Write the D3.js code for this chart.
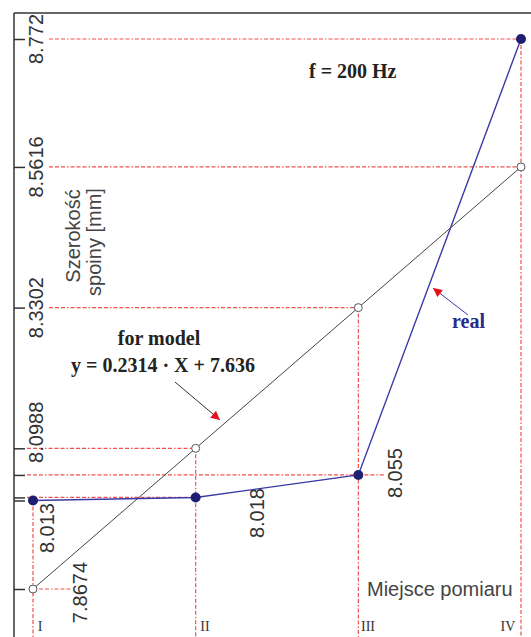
<!DOCTYPE html>
<html>
<head>
<meta charset="utf-8">
<script src="https://cdn.jsdelivr.net/npm/d3@7"></script>
<style>
  body { margin: 0; background: #fff; }
  svg { display: block; }
</style>
</head>
<body>
<svg id="chart" width="531" height="637"></svg>
<script>
// Measurement positions along the weld
const positions = [1, 2, 3, 4];
const positionLabels = ["I", "II", "III", "IV"];
// Measured weld width [mm] at f = 200 Hz
const realValues = [8.013, 8.018, 8.055, 8.772];
// Linear model y = 0.2314 * X + 7.636
const modelValues = [7.8674, 8.0988, 8.3302, 8.5616];
// Values marked on the vertical axis
const axisTicks = [8.772, 8.5616, 8.3302, 8.0988, 8.055, 8.018, 8.013, 7.8674];
const axisTickLabels = ["8.772", "8.5616", "8.3302", "8.0988"];

const svg = d3.select("#chart");
const W = 531, H = 637;
const axisX = 14, topY = 13;

const x = d3.scaleLinear().domain([1, 4]).range([33, 521]);
const y = d3.scaleLinear().domain([7.8674, 8.772]).range([589, 39]);

const RED = "#f24f4f";
const DASH = "4,2,4,2,4,2,1.5,2";
const SANS = "Arial, 'Liberation Sans', sans-serif";
const SERIF = "'Times New Roman', 'Liberation Serif', serif";

// frame: left axis line and top border
svg.append("line").attr("x1", axisX).attr("x2", axisX).attr("y1", topY).attr("y2", H)
  .attr("stroke", "#333").attr("stroke-width", 1.5);
svg.append("line").attr("x1", axisX).attr("x2", W).attr("y1", topY).attr("y2", topY)
  .attr("stroke", "#333").attr("stroke-width", 1.5);

// tick marks
const yAxis = d3.axisRight(y).tickValues(axisTicks).tickSize(11).tickFormat("");
const gAxis = svg.append("g").attr("transform", `translate(${axisX},0)`).call(yAxis);
gAxis.select(".domain").remove();
gAxis.selectAll(".tick line").attr("stroke", "#333").attr("stroke-width", 1.5);

// guide lines
const guides = svg.append("g").attr("fill", "none").attr("stroke", RED)
  .attr("stroke-width", 1.2).attr("stroke-dasharray", DASH);

// vertical guides from the higher point down to the bottom edge
positions.forEach((p, i) => {
  const top = Math.max(realValues[i], modelValues[i]);
  guides.append("line").attr("x1", x(p)).attr("x2", x(p))
    .attr("y1", y(top)).attr("y2", H);
});

// horizontal guides from the axis to each point
const allPoints = positions.flatMap((p, i) => [
  { p, v: realValues[i] }, { p, v: modelValues[i] }
]);
allPoints.forEach(d => {
  const start = d.v > 8.2 ? 49 : 27;
  if (x(d.p) - start > 8) {
    guides.append("line").attr("x1", start).attr("x2", x(d.p))
      .attr("y1", y(d.v)).attr("y2", y(d.v));
  }
});
// short leaders toward the point labels
guides.append("line").attr("x1", x(1)).attr("x2", 72)
  .attr("y1", y(modelValues[0])).attr("y2", y(modelValues[0]));
guides.append("line").attr("x1", x(3)).attr("x2", 385)
  .attr("y1", y(realValues[2])).attr("y2", y(realValues[2]));

// axis tick labels (rotated)
const tickLabelOffsets = { "8.772": 0, "8.5616": 0, "8.3302": 0, "8.0988": -16 };
axisTickLabels.forEach(t => {
  const cy = y(+t) + tickLabelOffsets[t];
  svg.append("text")
    .attr("transform", `translate(36,${cy}) rotate(-90)`)
    .attr("text-anchor", "middle").attr("dominant-baseline", "central")
    .attr("font-family", SANS).attr("font-size", 20).attr("fill", "#333")
    .text(t);
});

// point value labels (rotated, reading upward from below the point)
const pointLabels = [
  { v: realValues[0], cx: 47, top: 503 },
  { v: modelValues[0], cx: 80, top: 562 },
  { v: realValues[1], cx: 257, top: 488 },
  { v: realValues[2], cx: 395, top: 448 }
];
pointLabels.forEach(d => {
  svg.append("text")
    .attr("transform", `translate(${d.cx},${d.top}) rotate(-90)`)
    .attr("text-anchor", "end").attr("dominant-baseline", "central")
    .attr("font-family", SANS).attr("font-size", 20).attr("fill", "#333")
    .text(String(d.v));
});

// axis titles
svg.append("text")
  .attr("transform", "translate(73,236) rotate(-90)")
  .attr("text-anchor", "middle").attr("dominant-baseline", "central")
  .attr("font-family", SANS).attr("font-size", 20).attr("fill", "#444")
  .text("Szerokość");
svg.append("text")
  .attr("transform", "translate(94,242) rotate(-90)")
  .attr("text-anchor", "middle").attr("dominant-baseline", "central")
  .attr("font-family", SANS).attr("font-size", 20).attr("fill", "#444")
  .text("spoiny [mm]");
svg.append("text").attr("x", 367).attr("y", 596)
  .attr("font-family", SANS).attr("font-size", 20).attr("fill", "#444")
  .text("Miejsce pomiaru");

// position labels along the bottom edge
const posLabelX = [40, 205, 368, 508];
positions.forEach((p, i) => {
  svg.append("text").attr("x", posLabelX[i]).attr("y", 631)
    .attr("text-anchor", "middle")
    .attr("font-family", SERIF).attr("font-size", 14).attr("fill", "#333")
    .text(positionLabels[i]);
});

// model line and real line
const line = d3.line().x(d => x(d[0])).y(d => y(d[1]));
svg.append("path").datum(positions.map((p, i) => [p, modelValues[i]]))
  .attr("d", line).attr("fill", "none").attr("stroke", "#444").attr("stroke-width", 1);
svg.append("path").datum(positions.map((p, i) => [p, realValues[i]]))
  .attr("d", line).attr("fill", "none").attr("stroke", "#3a3aa6").attr("stroke-width", 1.4);

// markers
svg.append("g").selectAll("circle").data(positions)
  .join("circle").attr("cx", d => x(d)).attr("cy", (d, i) => y(modelValues[i]))
  .attr("r", 4).attr("fill", "#fff").attr("stroke", "#555").attr("stroke-width", 1);
svg.append("g").selectAll("circle").data(positions)
  .join("circle").attr("cx", d => x(d)).attr("cy", (d, i) => y(realValues[i]))
  .attr("r", 5).attr("fill", "#1f1f72");

// annotations
svg.append("text").attr("x", 309).attr("y", 78)
  .attr("font-family", SERIF).attr("font-weight", "bold").attr("font-size", 20)
  .attr("fill", "#222").text("f = 200 Hz");
svg.append("text").attr("x", 159).attr("y", 345).attr("text-anchor", "middle")
  .attr("font-family", SERIF).attr("font-weight", "bold").attr("font-size", 20)
  .attr("fill", "#222").text("for model");
svg.append("text").attr("x", 163).attr("y", 372).attr("text-anchor", "middle")
  .attr("font-family", SERIF).attr("font-weight", "bold").attr("font-size", 20)
  .attr("fill", "#222").text("y = 0.2314 · X + 7.636");
svg.append("text").attr("x", 452).attr("y", 328)
  .attr("font-family", SERIF).attr("font-weight", "bold").attr("font-size", 20)
  .attr("fill", "#2b2b8c").text("real");

// arrows with red heads
svg.append("defs").append("marker")
  .attr("id", "redHead").attr("viewBox", "0 0 10 10")
  .attr("refX", 10).attr("refY", 5)
  .attr("markerUnits", "userSpaceOnUse")
  .attr("markerWidth", 11).attr("markerHeight", 9)
  .attr("orient", "auto")
  .append("path").attr("d", "M0,0 L10,5 L0,10 Z").attr("fill", "#e8101a");

svg.append("line").attr("x1", 175).attr("y1", 382).attr("x2", 220).attr("y2", 420)
  .attr("stroke", "#333").attr("stroke-width", 1).attr("marker-end", "url(#redHead)");
svg.append("line").attr("x1", 468).attr("y1", 315).attr("x2", 433).attr("y2", 288)
  .attr("stroke", "#3a3aa6").attr("stroke-width", 1).attr("marker-end", "url(#redHead)");
</script>
</body>
</html>
